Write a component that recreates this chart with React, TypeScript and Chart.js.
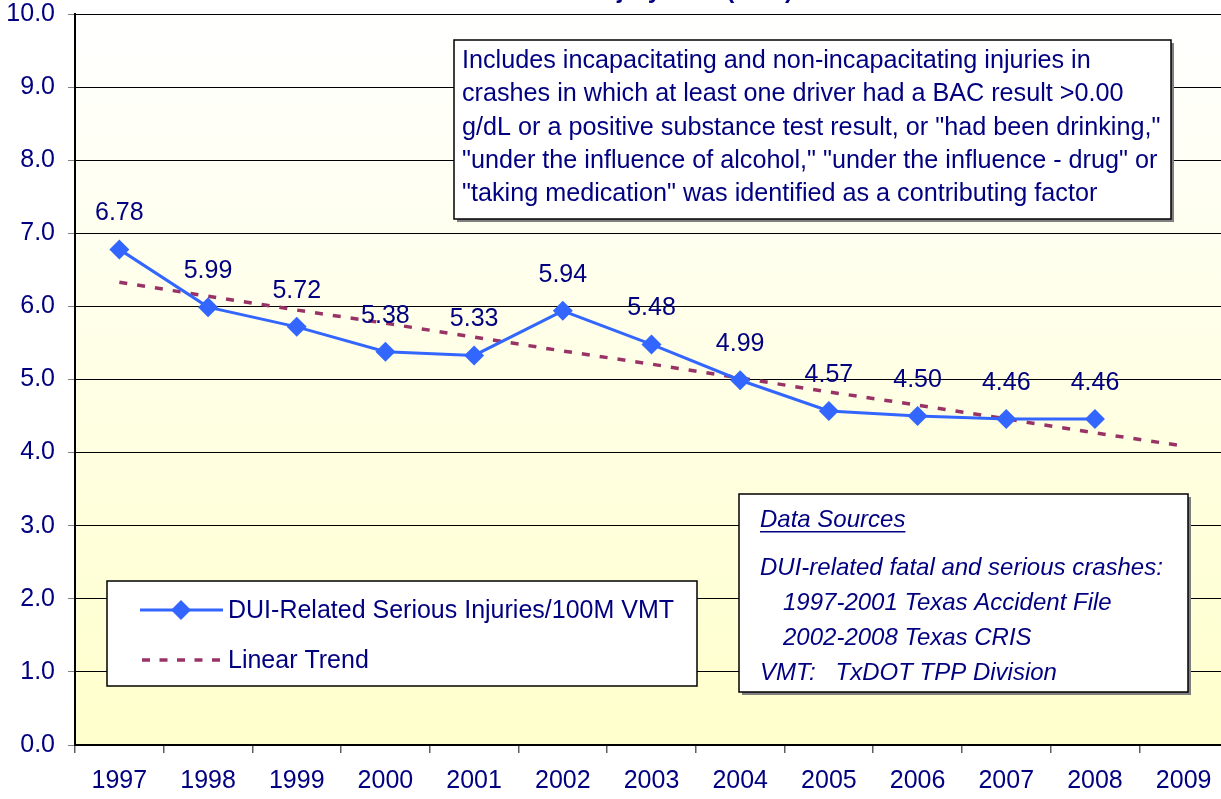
import React, { useEffect, useRef } from "react";
import { Chart, registerables } from "chart.js";

Chart.register(...registerables);

const years = ["1997", "1998", "1999", "2000", "2001", "2002", "2003", "2004", "2005", "2006", "2007", "2008", "2009"];
const injuryRates: (number | null)[] = [6.78, 5.99, 5.72, 5.38, 5.33, 5.94, 5.48, 4.99, 4.57, 4.5, 4.46, 4.46, null];
const trendValues = [6.33, 6.14, 5.95, 5.77, 5.58, 5.39, 5.21, 5.02, 4.83, 4.65, 4.46, 4.27, 4.09];
const yTickLabels = ["0.0", "1.0", "2.0", "3.0", "4.0", "5.0", "6.0", "7.0", "8.0", "9.0", "10.0"];
const seriesLabel = "DUI-Related Serious Injuries/100M VMT";
const trendLabel = "Linear Trend";
const titleText = "DUI-Related Serious Injury Rate (VMT)";
const noteLines = [
  "Includes incapacitating and non-incapacitating injuries in",
  "crashes in which at least one driver had a BAC result >0.00",
  "g/dL or a positive substance test result, or \"had been drinking,\"",
  "\"under the influence of alcohol,\" \"under the influence - drug\" or",
  "\"taking medication\" was identified as a contributing factor",
];
const sourceHeading = "Data Sources";
const sourceLines = [
  "DUI-related fatal and serious crashes:",
  "  1997-2001 Texas Accident File",
  "  2002-2008 Texas CRIS",
  "VMT:   TxDOT TPP Division",
];

const NAVY = "#000080";
const BLUE = "#3366FF";
const MAROON = "#993366";
const FONT = "'Liberation Sans', Arial, sans-serif";

function diamond(ctx: CanvasRenderingContext2D, x: number, y: number, r: number) {
  ctx.beginPath();
  ctx.moveTo(x - r, y);
  ctx.lineTo(x, y - r);
  ctx.lineTo(x + r, y);
  ctx.lineTo(x, y + r);
  ctx.closePath();
  ctx.fill();
}

function boxWithShadow(ctx: CanvasRenderingContext2D, x: number, y: number, w: number, h: number, shadow: boolean) {
  if (shadow) {
    ctx.fillStyle = "#808080";
    ctx.fillRect(x + 3, y + 3, w, h);
  }
  ctx.fillStyle = "#FFFFFF";
  ctx.fillRect(x, y, w, h);
  ctx.strokeStyle = "#000000";
  ctx.lineWidth = 1.5;
  ctx.strokeRect(x, y, w, h);
}

const decorPlugin = {
  id: "decor",
  beforeDraw(chart: any) {
    const { ctx, chartArea } = chart;
    const g = ctx.createLinearGradient(0, chartArea.top, 0, chartArea.bottom);
    g.addColorStop(0, "#FFFFFF");
    g.addColorStop(1, "#FFFFCC");
    ctx.save();
    ctx.fillStyle = g;
    ctx.fillRect(chartArea.left, chartArea.top, chartArea.right - chartArea.left, chartArea.bottom - chartArea.top);
    ctx.restore();
  },
  afterDatasetsDraw(chart: any) {
    const { ctx } = chart;
    const meta = chart.getDatasetMeta(0);
    ctx.save();
    ctx.fillStyle = NAVY;
    ctx.font = `25px ${FONT}`;
    ctx.textAlign = "center";
    ctx.textBaseline = "middle";
    meta.data.forEach((pt: any, i: number) => {
      const v = injuryRates[i];
      if (v == null) return;
      ctx.fillText(v.toFixed(2), pt.x, pt.y - 36);
    });
    ctx.restore();
  },
  afterDraw(chart: any) {
    const { ctx } = chart;
    ctx.save();
    // title fragment (cut off at top)
    ctx.fillStyle = NAVY;
    ctx.font = `bold 24px ${FONT}`;
    ctx.textAlign = "right";
    ctx.textBaseline = "alphabetic";
    ctx.fillText(titleText, 793, -2);

    // note box
    boxWithShadow(ctx, 454, 40, 717, 179, true);
    ctx.fillStyle = NAVY;
    ctx.font = `25.2px ${FONT}`;
    ctx.textAlign = "left";
    ctx.textBaseline = "middle";
    noteLines.forEach((t, i) => ctx.fillText(t, 462, 61 + i * 33.3));

    // data sources box
    boxWithShadow(ctx, 739, 494, 449, 198, true);
    ctx.fillStyle = NAVY;
    ctx.font = `italic 24px ${FONT}`;
    ctx.fillText(sourceHeading, 760, 520);
    const hw = ctx.measureText(sourceHeading).width;
    ctx.fillRect(760, 531, hw, 1.5);
    const sy = [568, 603, 638, 673];
    sourceLines.forEach((t, i) => {
      const lead = t.startsWith("  ") ? 23 : 0;
      ctx.fillText(t.trim(), 760 + lead, sy[i]);
    });

    // legend box
    boxWithShadow(ctx, 107, 581, 590, 105, false);
    ctx.strokeStyle = BLUE;
    ctx.lineWidth = 3;
    ctx.beginPath();
    ctx.moveTo(140, 610);
    ctx.lineTo(223, 610);
    ctx.stroke();
    ctx.fillStyle = BLUE;
    diamond(ctx, 181, 610, 10);
    ctx.strokeStyle = MAROON;
    ctx.lineWidth = 3.5;
    ctx.setLineDash([8, 9.5]);
    ctx.beginPath();
    ctx.moveTo(142, 660);
    ctx.lineTo(224, 660);
    ctx.stroke();
    ctx.setLineDash([]);
    ctx.fillStyle = NAVY;
    ctx.font = `25px ${FONT}`;
    ctx.fillText(seriesLabel, 228, 611);
    ctx.fillText(trendLabel, 228, 661);
    ctx.restore();
  },
};

export default function App() {
  const ref = useRef<HTMLCanvasElement | null>(null);
  useEffect(() => {
    if (!ref.current) return;
    const chart = new Chart(ref.current, {
      type: "line",
      data: {
        labels: years,
        datasets: [
          {
            label: seriesLabel,
            data: injuryRates,
            borderColor: BLUE,
            backgroundColor: BLUE,
            borderWidth: 3,
            pointStyle: "rectRot",
            pointRadius: 10,
            pointBorderWidth: 0,
            pointBackgroundColor: BLUE,
            tension: 0,
            spanGaps: false,
          },
          {
            label: trendLabel,
            data: trendValues,
            borderColor: MAROON,
            borderWidth: 3.5,
            borderDash: [8, 10],
            pointRadius: 0,
            tension: 0,
          },
        ],
      },
      options: {
        responsive: false,
        animation: false,
        devicePixelRatio: 1,
        layout: { padding: { top: 14, right: 12, left: 0, bottom: 0 } },
        plugins: { legend: { display: false }, title: { display: false }, tooltip: { enabled: false } },
        scales: {
          x: {
            offset: true,
            grid: { offset: true, drawOnChartArea: false, tickLength: 8, color: "#606060", lineWidth: 1.5 },
            border: { color: "#000000", width: 2 },
            ticks: { color: NAVY, font: { size: 25, family: FONT }, padding: 13, maxRotation: 0, autoSkip: false },
            afterFit: (s: any) => {
              s.height = 54;
              s.paddingLeft = 0;
              s.paddingRight = 0;
            },
          },
          y: {
            min: 0,
            max: 10,
            ticks: {
              stepSize: 1,
              color: NAVY,
              font: { size: 25, family: FONT },
              padding: 13,
              callback: (_v: any, i: number) => yTickLabels[i],
            },
            grid: { color: "#000000", lineWidth: 1, tickLength: 7, tickColor: "#808080" },
            border: { color: "#000000", width: 2 },
            afterFit: (s: any) => {
              s.width = 75;
              s.paddingTop = 0;
              s.paddingBottom = 0;
            },
          },
        },
      },
      plugins: [decorPlugin],
    });
    return () => chart.destroy();
  }, []);
  return (
    <div style={{ position: "fixed", left: 0, top: 0, width: 1221, height: 799, overflow: "hidden", background: "#FFFFFF" }}>
      <canvas ref={ref} width={1240} height={799} style={{ display: "block", width: 1240, height: 799 }} />
    </div>
  );
}
